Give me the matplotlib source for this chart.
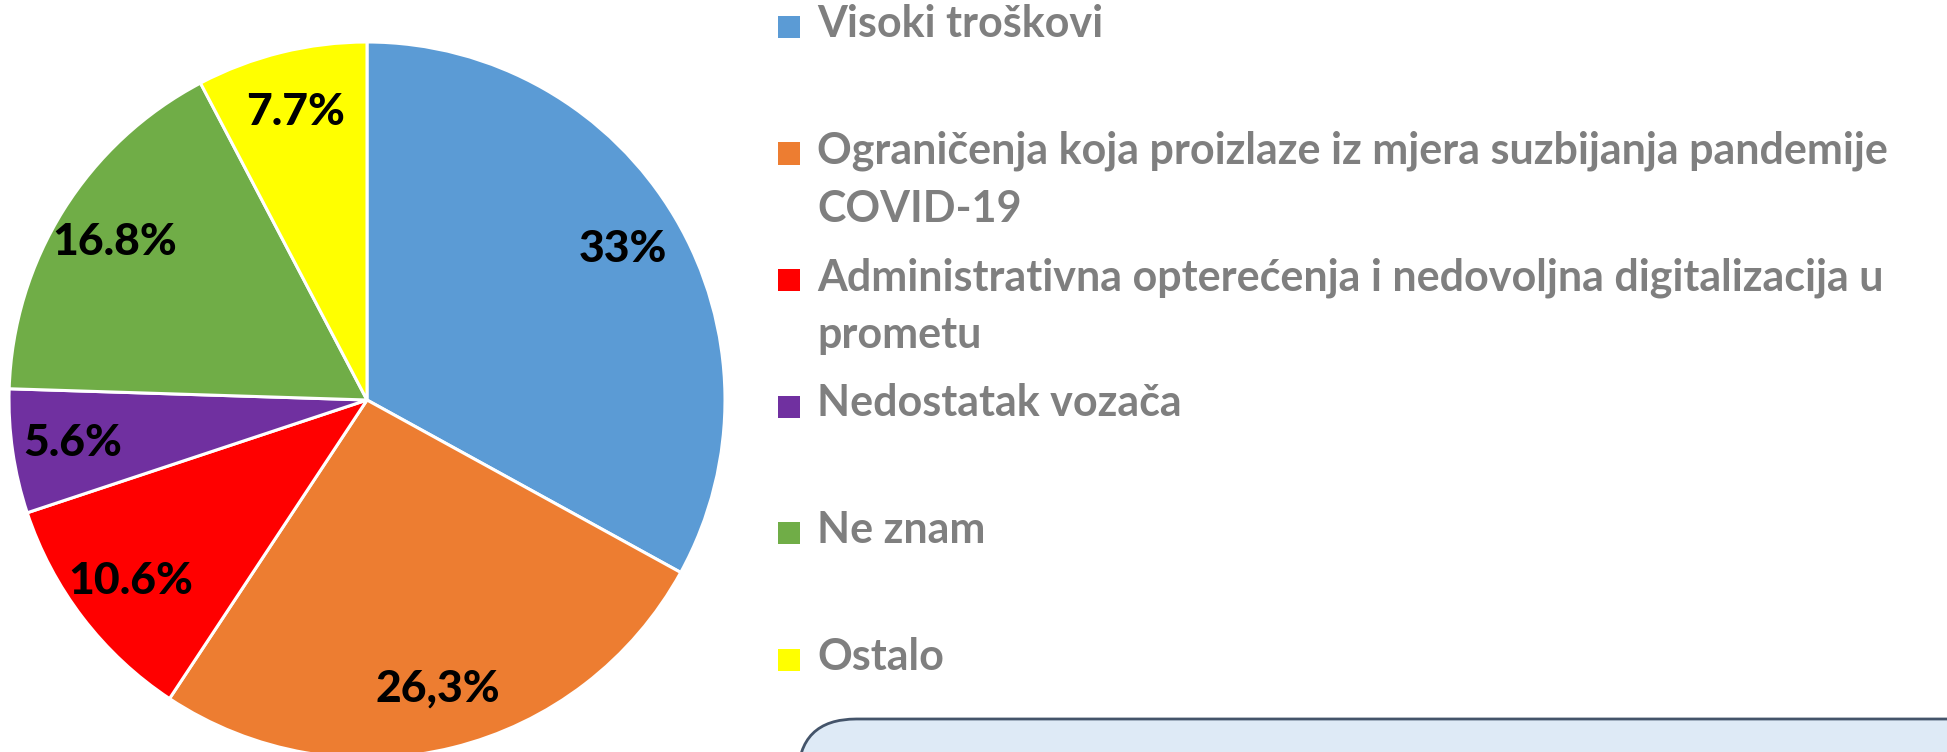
import matplotlib
matplotlib.use("Agg")
import matplotlib.pyplot as plt
from matplotlib.patches import Rectangle, FancyBboxPatch

categories = [
    "Visoki troškovi",
    "Ograničenja koja proizlaze iz mjera suzbijanja pandemije\nCOVID-19",
    "Administrativna opterećenja i nedovoljna digitalizacija u\nprometu",
    "Nedostatak vozača",
    "Ne znam",
    "Ostalo",
]
values = [33.0, 26.3, 10.6, 5.6, 16.8, 7.7]
value_labels = ["33%", "26,3%", "10.6%", "5.6%", "16.8%", "7.7%"]
colors = ["#5B9BD5", "#ED7D31", "#FF0000", "#7030A0", "#70AD47", "#FFFF00"]

W, H = 1947, 752
fig = plt.figure(figsize=(W / 100, H / 100), dpi=100)
fig.patch.set_facecolor("white")

FONT = ["Lato", "DejaVu Sans"]

# pie axes: centre (367, 400) px from top, radius 358 px
cx, cy, R = 367, 400, 358
ax = fig.add_axes([(cx - R) / W, (H - cy - R) / H, 2 * R / W, 2 * R / H])
wedges, texts = ax.pie(
    values,
    colors=colors,
    startangle=90,
    counterclock=False,
    labels=value_labels,
    labeldistance=0.83,
    radius=1.0,
    wedgeprops=dict(edgecolor="white", linewidth=2.2),
    textprops=dict(fontsize=32, fontweight="black", color="black", family=FONT),
)
for t in texts:
    t.set_horizontalalignment("center")
    t.set_verticalalignment("center")
ax.set_xlim(-1, 1)
ax.set_ylim(-1, 1)
ax.set_aspect("auto")
ax.axis("off")

# legend (manual layout)
base0 = 37
step = 126.5
line_gap = 58
sq = 22
for i, (lab, col) in enumerate(zip(categories, colors)):
    base = base0 + i * step
    fig.patches.append(Rectangle((778 / W, 1 - (base - 21 + sq) / H), sq / W, sq / H,
                                 transform=fig.transFigure, facecolor=col, edgecolor="none"))
    for j, line in enumerate(lab.split("\n")):
        fig.text(817 / W, 1 - (base + j * line_gap) / H, line, fontsize=31, fontweight="bold",
                 color="#7F7F7F", family=FONT, ha="left", va="baseline")

# rounded box at bottom right
box = FancyBboxPatch((798 / W, -60 / H), 1250 / W, (752 - 719 + 60) / H,
                     boxstyle="round,pad=0,rounding_size=0.03",
                     transform=fig.transFigure, facecolor="#DEEAF6", edgecolor="#44546A",
                     linewidth=2, mutation_aspect=W / H)
fig.patches.append(box)

fig.savefig("out.png", dpi=100, facecolor="white")
